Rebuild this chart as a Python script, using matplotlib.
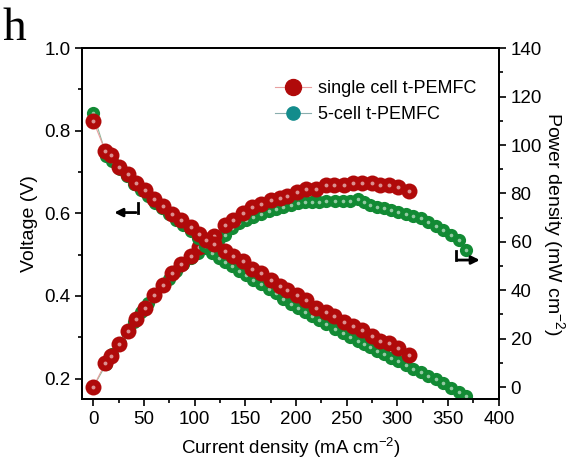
import numpy as np
import matplotlib
matplotlib.use('Agg')
import matplotlib.pyplot as plt
from matplotlib.lines import Line2D
from matplotlib.ticker import MultipleLocator

plt.rcParams['font.family'] = ['Liberation Sans', 'DejaVu Sans']
plt.rcParams['mathtext.fontset'] = 'custom'
plt.rcParams['mathtext.rm'] = 'Liberation Sans'

# single cell t-PEMFC
j1 = [0, 12, 17.5, 25.5, 34, 42, 51, 60, 69, 78, 87, 96, 104, 111, 119, 130, 138, 148,
      157, 165, 175, 184, 191, 201, 210, 220, 230, 237, 247, 256, 265, 275, 283, 292, 301, 311]
v1 = [0.824, 0.751, 0.741, 0.712, 0.695, 0.674, 0.656, 0.636, 0.617, 0.599, 0.585, 0.567,
      0.551, 0.536, 0.525, 0.510, 0.496, 0.484, 0.466, 0.455, 0.439, 0.425, 0.415, 0.403,
      0.391, 0.371, 0.362, 0.351, 0.337, 0.328, 0.318, 0.302, 0.291, 0.285, 0.273, 0.257]
p1 = [0, 10.0, 12.8, 18.0, 23.0, 28.0, 32.8, 38.0, 42.2, 47.0, 51.0, 54.3, 58.0, 59.6,
      62.5, 67.0, 69.0, 72.0, 74.3, 75.5, 77.3, 78.2, 79.0, 80.7, 81.7, 82.0, 83.5, 83.5,
      83.5, 84.4, 84.4, 84.4, 83.5, 83.5, 82.5, 81.1]

# 5-cell t-PEMFC
j5 = [0, 13, 19, 26, 33, 40, 47, 54, 61, 68, 75, 82, 89, 96, 103, 110, 117, 124, 130, 137,
      144, 151, 158, 165, 173, 180, 187, 195, 202, 209, 216, 223, 230, 238, 246, 253, 261,
      267, 273, 280, 287, 294, 301, 308, 315, 323, 330, 338, 345, 353, 361, 368]
v5 = [0.842, 0.740, 0.728, 0.708, 0.690, 0.672, 0.657, 0.641, 0.626, 0.612, 0.598, 0.585,
      0.571, 0.557, 0.540, 0.522, 0.503, 0.492, 0.482, 0.472, 0.460, 0.450, 0.439, 0.430,
      0.418, 0.406, 0.392, 0.380, 0.370, 0.362, 0.352, 0.343, 0.333, 0.321, 0.311, 0.300,
      0.290, 0.283, 0.276, 0.267, 0.259, 0.250, 0.242, 0.233, 0.223, 0.216, 0.206, 0.198,
      0.190, 0.178, 0.168, 0.157]
p5 = [0, 9.6, 13.8, 18.4, 22.8, 26.9, 30.9, 34.6, 38.2, 41.6, 44.8, 48.0, 50.8, 53.5, 55.6,
      57.4, 59.0, 61.0, 63.0, 65.6, 67.8, 69.2, 70.3, 71.5, 72.6, 73.6, 74.4, 75.2, 76.0,
      76.4, 76.6, 76.6, 76.7, 76.8, 77.0, 77.0, 77.5, 76.4, 75.4, 74.6, 73.9, 73.1, 72.4,
      71.6, 70.7, 69.7, 68.0, 66.5, 64.9, 63.0, 60.8, 56.8]

red = '#b00a0a'
green = '#128a34'
teal = '#138c8c'

fig = plt.figure(figsize=(5.78, 4.68), dpi=100)
ax1 = fig.add_axes([0.142, 0.147, 0.721, 0.750])
ax2 = ax1.twinx()


def balls(ax, x, y, col, lcol, ms, hs, z):
    ax.plot(x, y, '-', color=lcol, lw=0.8, zorder=z)
    ax.plot(x, y, 'o', color=col, ms=ms, mec=col, mew=0, zorder=z + 0.1)
    ax.plot(x, y, 'o', color='white', ms=hs, mew=0, alpha=0.55, zorder=z + 0.2)


balls(ax1, j5, v5, green, '#8fb89a', 9.5, 2.6, 2)
balls(ax1, j1, v1, red, '#e8a0a0', 11.5, 2.8, 3)
balls(ax2, j5, p5, green, '#8fb89a', 9.5, 2.6, 2)
balls(ax2, j1, p1, red, '#e8a0a0', 11.5, 2.8, 3)

ax1.set_xlim(-11, 400)
ax1.set_ylim(0.15, 1.0)
ax2.set_ylim(-5, 140)
ax1.xaxis.set_major_locator(MultipleLocator(50))
ax1.xaxis.set_minor_locator(MultipleLocator(25))
ax1.yaxis.set_major_locator(MultipleLocator(0.2))
ax1.yaxis.set_minor_locator(MultipleLocator(0.1))
ax2.yaxis.set_major_locator(MultipleLocator(20))
ax2.yaxis.set_minor_locator(MultipleLocator(10))
ax1.set_yticks([0.2, 0.4, 0.6, 0.8, 1.0])
ax1.set_yticklabels(['0.2', '0.4', '0.6', '0.8', '1.0'])

for ax in (ax1, ax2):
    ax.tick_params(which='major', direction='out', length=5, width=1.2, labelsize=13.5)
    ax.tick_params(which='minor', direction='out', length=3, width=1.2)
    for s in ax.spines.values():
        s.set_linewidth(1.3)
ax1.set_zorder(ax2.get_zorder() + 1)
ax1.patch.set_visible(False)

ax1.set_xlabel('Current density (mA cm$^{-2}$)', fontsize=13.5, labelpad=5)
ax1.set_ylabel('Voltage (V)', fontsize=14, labelpad=4)
ax2.set_ylabel('Power density (mW cm$^{-2}$)', fontsize=14, rotation=270, labelpad=18)

# direction arrows
ax1.annotate('', xy=(18, 0.602), xytext=(45, 0.602),
             arrowprops=dict(arrowstyle='-|>', color='black', lw=2, mutation_scale=12))
ax1.plot([44.5, 44.5], [0.602, 0.626], color='black', lw=2)
ax1.annotate('', xy=(384, 0.487), xytext=(357, 0.487),
             arrowprops=dict(arrowstyle='-|>', color='black', lw=2, mutation_scale=12))
ax1.plot([357.5, 357.5], [0.487, 0.509], color='black', lw=2)

handles = [Line2D([], [], color='#e8a0a0', lw=0.8, marker='o', ms=11.5, mfc=red, mec=red),
           Line2D([], [], color='#8aaeae', lw=0.8, marker='o', ms=9.5, mfc=teal, mec=teal)]
ax1.legend(handles, ['single cell t-PEMFC', '5-cell t-PEMFC'], loc='upper right',
           bbox_to_anchor=(0.985, 0.955), frameon=False, fontsize=13,
           handlelength=2.0, handletextpad=0.4, labelspacing=0.5)

fig.text(0.005, 0.985, 'h', family='Liberation Serif', fontsize=34, va='top', ha='left')

fig.savefig('out.png', dpi=100)
